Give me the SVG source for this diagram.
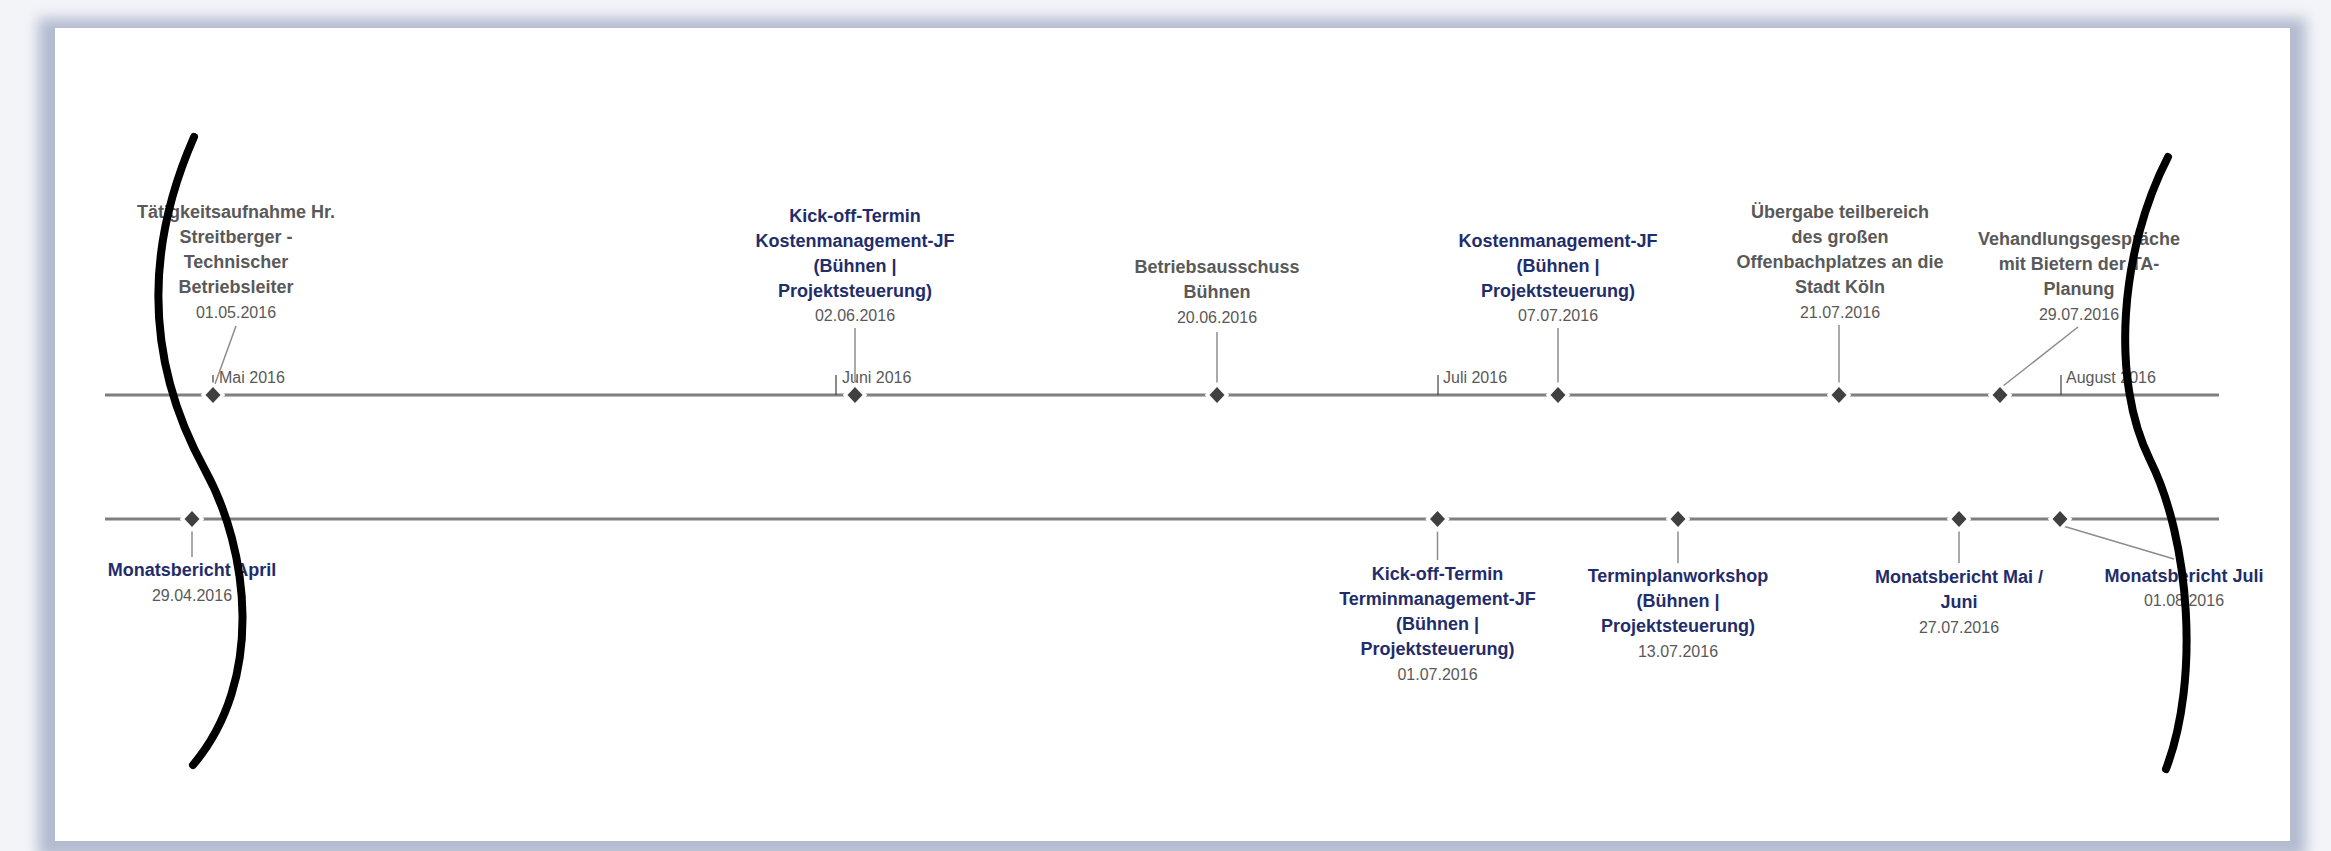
<svg xmlns="http://www.w3.org/2000/svg" width="2331" height="851" viewBox="0 0 2331 851">
<style>
.axis{stroke:#7f7f7f;stroke-width:3;fill:none}
.tick{stroke:#404040;stroke-width:1.2}
.month{font-family:"Liberation Sans",Arial,sans-serif;font-size:16px;fill:#595959}
.lead{stroke:#8c8c8c;stroke-width:1.5;fill:none}
.dia{fill:#404040;stroke:#ffffff;stroke-width:7;paint-order:stroke}
.t{font-family:"Liberation Sans",Arial,sans-serif;font-size:18px;font-weight:bold;text-anchor:middle}
.gray{fill:#595959}
.blue{fill:#1f2d6b}
.date{font-family:"Liberation Sans",Arial,sans-serif;font-size:16px;fill:#595959;text-anchor:middle}
.brk{stroke:#000000;stroke-width:8;fill:none;stroke-linecap:round}
</style>
<defs>
<filter id="blur" x="-5%" y="-5%" width="110%" height="110%"><feGaussianBlur stdDeviation="7"/></filter>
<path id="d" d="M0,-8 L7.5,0 L0,8 L-7.5,0 Z"/>
</defs>
<!-- frame -->
<rect x="0" y="0" width="2331" height="851" fill="#f3f4f8"/>
<rect x="38" y="18" width="2268" height="840" fill="#b3bbd0" filter="url(#blur)"/>
<rect x="55" y="28" width="2235" height="813" fill="#ffffff"/>

<!-- axis -->
<g id="axis">
<line class="axis" x1="105" y1="395" x2="2219" y2="395"/>
<line class="axis" x1="105" y1="519" x2="2219" y2="519"/>
<line class="tick" x1="213" y1="375" x2="213" y2="395"/>
<line class="tick" x1="836" y1="375" x2="836" y2="395"/>
<line class="tick" x1="1438" y1="375" x2="1438" y2="395"/>
<line class="tick" x1="2061" y1="375" x2="2061" y2="395"/>
<text class="month" x="219" y="383">Mai 2016</text>
<text class="month" x="842" y="383">Juni 2016</text>
<text class="month" x="1443" y="383">Juli 2016</text>
<text class="month" x="2066" y="383">August 2016</text>
</g>

<!-- connectors -->
<g id="connectors">
<line class="lead" x1="236" y1="326" x2="215" y2="384"/>
<line class="lead" x1="855" y1="328" x2="855" y2="386"/>
<line class="lead" x1="1217" y1="332" x2="1217" y2="386"/>
<line class="lead" x1="1558" y1="328" x2="1558" y2="386"/>
<line class="lead" x1="1839" y1="325" x2="1839" y2="386"/>
<line class="lead" x1="2078" y1="327" x2="2003" y2="386"/>
<line class="lead" x1="192" y1="528" x2="192" y2="557"/>
<line class="lead" x1="1437.5" y1="528" x2="1437.5" y2="560"/>
<line class="lead" x1="1678" y1="528" x2="1678" y2="563"/>
<line class="lead" x1="1959" y1="528" x2="1959" y2="563"/>
<line class="lead" x1="2063" y1="526" x2="2174" y2="559"/>
</g>

<g id="n1">
<use href="#d" class="dia" x="213" y="395"/>
<text class="t gray" x="236" y="218">Tätigkeitsaufnahme Hr.<tspan x="236" y="243">Streitberger -</tspan><tspan x="236" y="268">Technischer</tspan><tspan x="236" y="293">Betriebsleiter</tspan></text>
<text class="date" x="236" y="318">01.05.2016</text>
</g>
<g id="n2">
<use href="#d" class="dia" x="855" y="395"/>
<text class="t blue" x="855" y="222">Kick-off-Termin<tspan x="855" y="247">Kostenmanagement-JF</tspan><tspan x="855" y="272">(Bühnen |</tspan><tspan x="855" y="297">Projektsteuerung)</tspan></text>
<text class="date" x="855" y="321">02.06.2016</text>
</g>
<g id="n3">
<use href="#d" class="dia" x="1217" y="395"/>
<text class="t gray" x="1217" y="273">Betriebsausschuss<tspan x="1217" y="298">Bühnen</tspan></text>
<text class="date" x="1217" y="323">20.06.2016</text>
</g>
<g id="n4">
<use href="#d" class="dia" x="1558" y="395"/>
<text class="t blue" x="1558" y="247">Kostenmanagement-JF<tspan x="1558" y="272">(Bühnen |</tspan><tspan x="1558" y="297">Projektsteuerung)</tspan></text>
<text class="date" x="1558" y="321">07.07.2016</text>
</g>
<g id="n5">
<use href="#d" class="dia" x="1839" y="395"/>
<text class="t gray" x="1840" y="218">Übergabe teilbereich<tspan x="1840" y="243">des großen</tspan><tspan x="1840" y="268">Offenbachplatzes an die</tspan><tspan x="1840" y="293">Stadt Köln</tspan></text>
<text class="date" x="1840" y="318">21.07.2016</text>
</g>
<g id="n6">
<use href="#d" class="dia" x="2000" y="395"/>
<text class="t gray" x="2079" y="245">Vehandlungsgespräche<tspan x="2079" y="270">mit Bietern der TA-</tspan><tspan x="2079" y="295">Planung</tspan></text>
<text class="date" x="2079" y="320">29.07.2016</text>
</g>
<g id="n7">
<use href="#d" class="dia" x="192" y="519"/>
<text class="t blue" x="192" y="576">Monatsbericht April</text>
<text class="date" x="192" y="601">29.04.2016</text>
</g>
<g id="n8">
<use href="#d" class="dia" x="1437.5" y="519"/>
<text class="t blue" x="1437.5" y="580">Kick-off-Termin<tspan x="1437.5" y="605">Terminmanagement-JF</tspan><tspan x="1437.5" y="630">(Bühnen |</tspan><tspan x="1437.5" y="655">Projektsteuerung)</tspan></text>
<text class="date" x="1437.5" y="680">01.07.2016</text>
</g>
<g id="n9">
<use href="#d" class="dia" x="1678" y="519"/>
<text class="t blue" x="1678" y="582">Terminplanworkshop<tspan x="1678" y="607">(Bühnen |</tspan><tspan x="1678" y="632">Projektsteuerung)</tspan></text>
<text class="date" x="1678" y="657">13.07.2016</text>
</g>
<g id="n10">
<use href="#d" class="dia" x="1959" y="519"/>
<text class="t blue" x="1959" y="583">Monatsbericht Mai /<tspan x="1959" y="608">Juni</tspan></text>
<text class="date" x="1959" y="633">27.07.2016</text>
</g>
<g id="n11">
<use href="#d" class="dia" x="2060" y="519"/>
<text class="t blue" x="2184" y="582">Monatsbericht Juli</text>
<text class="date" x="2184" y="606">01.08.2016</text>
</g>

<!-- break marks -->
<g id="breaks">
<path class="brk" d="M194,137 C140,260 150,370 205,470 C249,550 265,680 193,765"/>
<path class="brk" d="M2168,157 C2120,250 2110,380 2150,460 C2190,540 2200,680 2166,769"/>
</g>
</svg>
